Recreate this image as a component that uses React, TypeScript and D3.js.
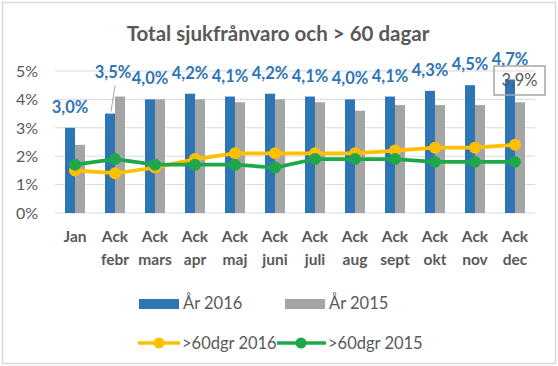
import React from 'react';
import * as d3 from 'd3';

const categories = ['Jan', 'Ack\nfebr', 'Ack\nmars', 'Ack\napr', 'Ack\nmaj', 'Ack\njuni', 'Ack\njuli', 'Ack\naug', 'Ack\nsept', 'Ack\nokt', 'Ack\nnov', 'Ack\ndec'];
const ar2016 = [3.0, 3.5, 4.0, 4.2, 4.1, 4.2, 4.1, 4.0, 4.1, 4.3, 4.5, 4.7];
const ar2015 = [2.4, 4.1, 4.0, 4.0, 3.9, 4.0, 3.9, 3.6, 3.8, 3.8, 3.8, 3.9];
const dgr2016 = [1.5, 1.4, 1.6, 1.9, 2.1, 2.1, 2.1, 2.1, 2.2, 2.3, 2.3, 2.4];
const dgr2015 = [1.7, 1.9, 1.7, 1.7, 1.7, 1.6, 1.9, 1.9, 1.9, 1.8, 1.8, 1.8];
const yTicks = [0, 1, 2, 3, 4, 5];

const W = 558, H = 366;
const FONT = 'Lato, "Open Sans", sans-serif';
const BLUE = '#2E75B6', GRAY = '#A5A5A5', YELLOW = '#FFC000', GREEN = '#1FA84A';
const TXT = '#595959';

const fmt = (v: number) => v.toFixed(1).replace('.', ',') + '%';

export default function App() {
  const x0 = d3.scaleBand<string>().domain(categories).range([55, 535]).paddingInner(0.5).paddingOuter(0.25);
  const x1 = d3.scaleBand<string>().domain(['2016', '2015']).range([0, x0.bandwidth()]);
  const y = d3.scaleLinear().domain([0, 5]).range([213, 71]);
  const cx = (c: string) => (x0(c) as number) + x0.bandwidth() / 2;

  const line = d3.line<number>().x((_, i) => cx(categories[i])).y(d => y(d));

  // gul först, grön ovanpå
  const lines = [
    { data: dgr2016, color: YELLOW },
    { data: dgr2015, color: GREEN },
  ];

  return (
    <svg width={W} height={H} style={{ position: 'absolute', left: 0, top: 0, background: '#fff' }} fontFamily={FONT}>
      <rect x={2.5} y={2.5} width={W - 5} height={H - 5} fill="#fff" stroke="#D9D9D9" strokeWidth={1.5} />
      <text x={278} y={41} textAnchor="middle" fontSize={20.5} fontWeight={700} fill={TXT}>Total sjukfrånvaro och &gt; 60 dagar</text>

      {yTicks.map(t => (
        <g key={t}>
          <line x1={55} x2={535} y1={y(t)} y2={y(t)} stroke="#D9D9D9" strokeWidth={1} />
          <text x={38} y={y(t)} dy="0.36em" textAnchor="end" fontSize={16} fill={TXT}>{t}%</text>
        </g>
      ))}

      {categories.map((c, i) => (
        <g key={c}>
          <rect x={(x0(c) as number) + (x1('2016') as number)} y={y(ar2016[i])} width={x1.bandwidth()} height={y(0) - y(ar2016[i])} fill={BLUE} />
          <rect x={(x0(c) as number) + (x1('2015') as number)} y={y(ar2015[i])} width={x1.bandwidth()} height={y(0) - y(ar2015[i])} fill={GRAY} />
        </g>
      ))}

      {lines.map((l, k) => (
        <g key={k}>
          <path d={line(l.data) as string} fill="none" stroke={l.color} strokeWidth={3.75} strokeLinejoin="round" />
          {l.data.map((v, i) => (
            <circle key={i} cx={cx(categories[i])} cy={y(v)} r={6} fill={l.color} />
          ))}
        </g>
      ))}

      {categories.map((c) => {
        const parts = c.split('\n');
        return (
          <text key={c} textAnchor="middle" fontSize={15.5} fontWeight={700} fill={TXT}>
            <tspan x={cx(c)} y={242}>{parts[0]}</tspan>
            {parts[1] && <tspan x={cx(c)} y={265}>{parts[1]}</tspan>}
          </text>
        );
      })}

      {categories.map((c, i) => {
        const bx = (x0(c) as number) + (x1('2016') as number) + x1.bandwidth() / 2;
        // febr-etiketten är flyttad uppåt med en hänvisningslinje
        const lift = i === 1 ? 21 : 0;
        const shift = i === 1 ? 3 : 0;
        const by = y(ar2016[i]) - 15 - lift;
        return (
          <g key={c}>
            {i === 1 && <line x1={bx + 1} y1={y(ar2016[i]) - 2} x2={bx + 5} y2={by + 8} stroke="#A6A6A6" strokeWidth={1} />}
            <text x={bx + shift} y={by} textAnchor="middle" fontSize={16.5} fontWeight={700} fill={BLUE}>{fmt(ar2016[i])}</text>
          </g>
        );
      })}

      {(() => {
        const i = categories.length - 1;
        const c = categories[i];
        const gx = (x0(c) as number) + (x1('2015') as number) + x1.bandwidth() / 2;
        return (
          <g>
            <rect x={gx - 26} y={66} width={51} height={29} fill="none" stroke="#A6A6A6" strokeWidth={1.5} />
            <text x={gx - 0.5} y={86} textAnchor="middle" fontSize={16.5} fill={TXT}>{fmt(ar2015[i])}</text>
          </g>
        );
      })()}

      <g fontSize={16.5} fill={TXT}>
        <rect x={139} y={299} width={40} height={10} fill={BLUE} />
        <text x={183} y={309}>År 2016</text>
        <rect x={285} y={299} width={40} height={10} fill={GRAY} />
        <text x={329} y={309}>År 2015</text>

        <line x1={138} x2={180} y1={343} y2={343} stroke={YELLOW} strokeWidth={3.5} />
        <circle cx={159} cy={343} r={5.5} fill={YELLOW} />
        <text x={182} y={349}>&gt;60dgr 2016</text>
        <line x1={277} x2={326} y1={343} y2={343} stroke={GREEN} strokeWidth={3.5} />
        <circle cx={301} cy={343} r={5.5} fill={GREEN} />
        <text x={328} y={349}>&gt;60dgr 2015</text>
      </g>
    </svg>
  );
}
